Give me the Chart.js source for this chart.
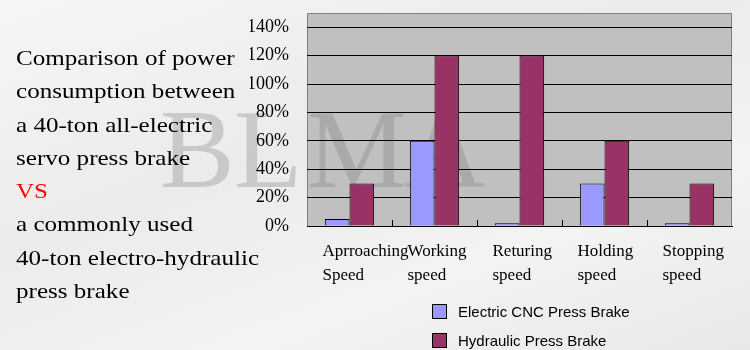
<!DOCTYPE html>
<html>
<head>
<meta charset="utf-8">
<script src="https://cdn.jsdelivr.net/npm/chart.js@4/dist/chart.umd.min.js"></script>
<style>
  body { margin: 0; }
  #wrap {
    position: relative; width: 750px; height: 350px; overflow: hidden;
    background: linear-gradient(160deg, #f6f6f6 0%, #ebebeb 40%, #f3f3f3 70%, #e8e8e8 100%);
  }
  #chart { position: absolute; left: 0; top: 0; }
  #intro {
    position: absolute; left: 16px; top: 41px; white-space: nowrap;
    font-family: "Liberation Serif", serif; font-size: 22px; line-height: 33.3px; color: #000;
    transform: scaleX(1.14); transform-origin: 0 0;
  }
  #intro .vs { color: #ff0000; }
  #legend {
    position: absolute; left: 432px; top: 297px;
    font-family: "Liberation Sans", Arial, sans-serif; font-size: 15px; color: #000;
  }
  #legend .row { height: 29px; display: flex; align-items: center; }
  #legend .box { width: 13px; height: 13px; border: 1px solid #000; margin-right: 11px; }
</style>
</head>
<body>
<div id="wrap">
  <canvas id="chart" width="750" height="350"></canvas>
  <div id="intro">
    Comparison of power<br>
    consumption between<br>
    a 40-ton all-electric<br>
    servo press brake<br>
    <span class="vs">VS</span><br>
    a commonly used<br>
    40-ton electro-hydraulic<br>
    press brake
  </div>
  <div id="legend"></div>
</div>
<script>
const categories = [['Aprroaching', 'Speed'], ['Working', 'speed'], ['Returing', 'speed'], ['Holding', 'speed'], ['Stopping', 'speed']];
const seriesNames = ['Electric CNC Press Brake', 'Hydraulic Press Brake'];
const electricValues = [5, 60, 2, 30, 2];
const hydraulicValues = [30, 120, 120, 60, 30];
const yTickValues = [0, 20, 40, 60, 80, 100, 120, 140];

const serif = '"Liberation Serif", "Times New Roman", serif';

// gray plot area, watermark and the short inner ticks
const plotDecor = {
  id: 'plotDecor',
  beforeDraw(chart) {
    const { ctx, chartArea: a } = chart;
    ctx.save();
    ctx.fillStyle = '#c0c0c0';
    ctx.fillRect(a.left, a.top, a.right - a.left, a.bottom - a.top);
    ctx.font = '112px ' + serif;
    ctx.fillStyle = 'rgba(120,120,120,0.3)';
    ctx.textBaseline = 'alphabetic';
    ctx.fillText('B', 160, 187);
    ctx.fillText('L', 234, 187);
    ctx.fillText('M', 307, 187);
    ctx.fillText('A', 404, 187);
    ctx.strokeStyle = '#808080';
    ctx.lineWidth = 1;
    ctx.beginPath();
    ctx.moveTo(a.left + 0.5, a.bottom);
    ctx.lineTo(a.left + 0.5, a.top + 0.5);
    ctx.lineTo(a.right - 0.5, a.top + 0.5);
    ctx.lineTo(a.right - 0.5, a.bottom);
    ctx.stroke();
    ctx.restore();
  },
  afterDatasetsDraw(chart) {
    const { ctx, chartArea: a } = chart;
    const x = chart.scales.x;
    ctx.save();
    ctx.strokeStyle = '#000';
    ctx.lineWidth = 1;
    ctx.beginPath();
    for (let i = 1; i < categories.length; i++) {
      const px = Math.round((x.getPixelForValue(i - 1) + x.getPixelForValue(i)) / 2) + 0.5;
      ctx.moveTo(px, a.bottom);
      ctx.lineTo(px, a.bottom - 6);
    }
    ctx.stroke();
    ctx.restore();
  }
};

const chart = new Chart(document.getElementById('chart'), {
  type: 'bar',
  data: {
    labels: categories,
    datasets: [{
      label: seriesNames[0],
      data: electricValues,
      backgroundColor: '#9999ff',
      borderColor: '#000',
      borderWidth: 1
    }, {
      label: seriesNames[1],
      data: hydraulicValues,
      backgroundColor: '#993366',
      borderColor: '#000',
      borderWidth: 1
    }]
  },
  options: {
    responsive: false,
    animation: false,
    layout: { padding: { left: 250, top: 13, right: 18, bottom: 0 } },
    categoryPercentage: 0.58,
    barPercentage: 1,
    plugins: {
      legend: { display: false },
      tooltip: { enabled: false }
    },
    scales: {
      x: {
        afterFit(scale) {
          scale.height = 124;
          scale.paddingLeft = 0;
          scale.paddingRight = 0;
        },
        grid: { display: false },
        border: { display: true, color: '#000' },
        ticks: {
          color: '#000',
          font: { family: serif, size: 17, lineHeight: 1.4 },
          align: 'start',
          labelOffset: -27,
          padding: 6,
          maxRotation: 0,
          autoSkip: false
        }
      },
      y: {
        min: 0,
        max: 150,
        afterFit(scale) {
          scale.width = 57;
          scale.paddingTop = 0;
          scale.paddingBottom = 0;
        },
        afterBuildTicks(axis) { axis.ticks = yTickValues.map(v => ({ value: v })); },
        grid: { color: '#000', drawTicks: false },
        border: { display: false },
        ticks: {
          color: '#000',
          font: { family: serif, size: 18 },
          padding: 18,
          callback: v => v + '%'
        }
      }
    }
  },
  plugins: [plotDecor]
});

const legend = document.getElementById('legend');
chart.data.datasets.forEach(ds => {
  const row = document.createElement('div');
  row.className = 'row';
  const box = document.createElement('span');
  box.className = 'box';
  box.style.background = ds.backgroundColor;
  row.appendChild(box);
  row.appendChild(document.createTextNode(ds.label));
  legend.appendChild(row);
});
</script>
</body>
</html>
